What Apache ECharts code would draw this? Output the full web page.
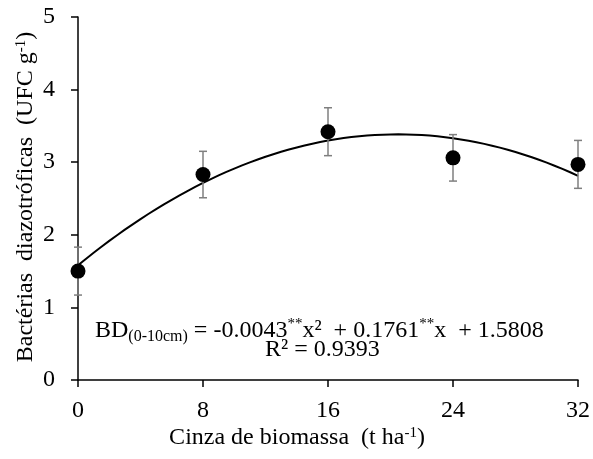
<!DOCTYPE html>
<html><head><meta charset="utf-8">
<script src="https://cdn.jsdelivr.net/npm/echarts@6/dist/echarts.min.js"></script>
<style>html,body{margin:0;padding:0;background:#fff}#c{width:593px;height:459px}</style>
</head><body><div id="c"></div>
<script>
const doses = [0, 8, 16, 24, 32];
const meanValues = [1.50, 2.83, 3.42, 3.06, 2.97];
const errorValues = [0.33, 0.32, 0.33, 0.32, 0.33];
const yTicks = [0, 1, 2, 3, 4, 5];
const xTicks = [0, 8, 16, 24, 32];
// regression coefficients as printed on the chart: a*x^2 + b*x + c
const fitCoefficients = [-0.0043, 0.1761, 1.5808];
const rSquared = 0.9393;

const fitCurve = [];
for (let x = 0; x <= 32.0001; x += 0.5) {
  fitCurve.push([x, fitCoefficients[0]*x*x + fitCoefficients[1]*x + fitCoefficients[2]]);
}
const errData = doses.map((d, i) => [d, meanValues[i] - errorValues[i], meanValues[i] + errorValues[i]]);

const FONT = 'Liberation Serif';
const FS = 24;
const chart = echarts.init(document.getElementById('c'), null, {renderer: 'canvas'});
chart.setOption({
  backgroundColor: '#fff',
  animation: false,
  grid: {left: 78, right: 14, top: 17, bottom: 79, containLabel: false},
  xAxis: {
    type: 'value', min: xTicks[0], max: xTicks[xTicks.length-1], interval: 8,
    axisLine: {lineStyle: {color: '#000', width: 1.5}},
    axisTick: {show: true, inside: false, length: 7, lineStyle: {color: '#000', width: 1.5}},
    axisLabel: {color: '#000', fontFamily: FONT, fontSize: FS, margin: 19},
    splitLine: {show: false}
  },
  yAxis: {
    type: 'value', min: yTicks[0], max: yTicks[yTicks.length-1], interval: 1,
    axisLine: {show: true, lineStyle: {color: '#000', width: 1.5}},
    axisTick: {show: true, inside: false, length: 7, lineStyle: {color: '#000', width: 1.5}},
    axisLabel: {color: '#000', fontFamily: FONT, fontSize: FS, margin: 23},
    splitLine: {show: false}
  },
  series: [
    {
      type: 'line', data: fitCurve, showSymbol: false, smooth: false,
      lineStyle: {color: '#000', width: 2}, z: 2, silent: true
    },
    {
      type: 'custom', data: errData, z: 3,
      renderItem: function (params, api) {
        const x = api.value(0);
        const lo = api.coord([x, api.value(1)]);
        const hi = api.coord([x, api.value(2)]);
        const w = 4;
        const style = {stroke: '#7f7f7f', lineWidth: 1.5};
        return {type: 'group', children: [
          {type: 'line', shape: {x1: lo[0], y1: lo[1], x2: hi[0], y2: hi[1]}, style: style},
          {type: 'line', shape: {x1: lo[0]-w, y1: lo[1], x2: lo[0]+w, y2: lo[1]}, style: style},
          {type: 'line', shape: {x1: hi[0]-w, y1: hi[1], x2: hi[0]+w, y2: hi[1]}, style: style}
        ]};
      }
    },
    {
      type: 'scatter', data: doses.map((d, i) => [d, meanValues[i]]),
      symbol: 'circle', symbolSize: 15, itemStyle: {color: '#000', opacity: 1}, z: 4
    }
  ],
  graphic: [
    {
      type: 'text', left: 95, top: 317,
      style: {
        text: '{t|BD}{sub|(0-10cm)}{t| = ' + fitCoefficients[0].toFixed(4) + '}{sup|**}{t|x²  + ' + fitCoefficients[1].toFixed(4) + '}{sup|**}{t|x  + ' + fitCoefficients[2].toFixed(4) + '}',
        rich: {
          t: {fontFamily: FONT, fontSize: FS, fill: '#000'},
          sub: {fontFamily: FONT, fontSize: 16, fill: '#000', padding: [12,0,0,0]},
          sup: {fontFamily: FONT, fontSize: 15, fill: '#000', padding: [0,0,12,0]}
        }
      }
    },
    {
      type: 'text', left: 265, top: 338,
      style: {text: 'R² = ' + rSquared.toFixed(4), fontFamily: FONT, fontSize: FS, fill: '#000'}
    },
    {
      type: 'text', x: 297, y: 438,
      style: {
        text: '{t|Cinza de biomassa  (t ha}{s|-1}{t|)}',
        align: 'center', verticalAlign: 'middle',
        rich: {
          t: {fontFamily: FONT, fontSize: FS, fill: '#000'},
          s: {fontFamily: FONT, fontSize: 15, fill: '#000', padding: [0,0,9,0]}
        }
      }
    },
    {
      type: 'text', x: 26, y: 197, rotation: Math.PI / 2,
      style: {
        text: '{t|Bactérias  diazotróficas  (UFC g}{s|-1}{t|)}',
        align: 'center', verticalAlign: 'middle',
        rich: {
          t: {fontFamily: FONT, fontSize: FS, fill: '#000'},
          s: {fontFamily: FONT, fontSize: 15, fill: '#000', padding: [0,0,9,0]}
        }
      }
    }
  ]
});
</script></body></html>
